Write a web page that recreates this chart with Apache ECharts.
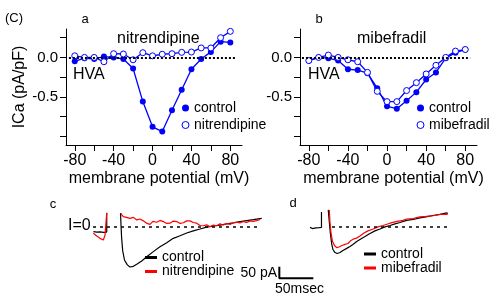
<!DOCTYPE html>
<html>
<head>
<meta charset="utf-8">
<script src="https://cdn.jsdelivr.net/npm/echarts@6/dist/echarts.min.js"></script>
<style>
  html, body { margin: 0; padding: 0; background: #fff; }
  #chart { width: 500px; height: 308px; }
</style>
</head>
<body>
<div id="chart"></div>
<script>
// I-V curves (pA/pF) at each test potential (mV)
const voltages = [-80, -70, -60, -50, -40, -30, -20, -10, 0, 10, 20, 30, 40, 50, 60, 70, 80]
const aControl = [-0.05, -0.01, -0.02, 0.01, 0, -0.02, -0.14, -0.56, -0.88, -0.94, -0.67, -0.41, -0.15, -0.02, 0.07, 0.2, 0.19]
const aNitrendipine = [0.02, 0, 0, -0.055, 0.047, 0.043, -0.03, 0.06, 0.02, 0.04, 0.047, 0.064, 0.068, 0.12, 0.12, 0.25, 0.33]
const bControl = [-0.04, 0, -0.01, -0.04, -0.15, -0.16, -0.2, -0.39, -0.62, -0.65, -0.55, -0.44, -0.28, -0.19, -0.01, 0.06, 0.1]
const bMibefradil = [-0.04, 0, 0.03, 0, -0.03, -0.055, -0.19, -0.43, -0.56, -0.56, -0.42, -0.32, -0.21, -0.1, 0, 0.08, 0.1]
const yTicks = [-1, -0.75, -0.5, -0.25, 0, 0.25]
const yTickLabels = [-0.5, 0]
const xTicks = [-80, -60, -40, -20, 0, 20, 40, 60, 80]
const xTickLabels = [-80, -40, 0, 40, 80]

// current traces: [time ms, current pA]
const cControlPre = [[5, -22], [10, -24], [15, -23], [20, -25], [24.6, -24], [24.6, 58]]
const cNitrendipinePre = [[4.9, -29], [7.5, -35], [9.9, -41], [12.2, -33], [14.7, -51], [17.2, -44], [19.6, -58], [22.1, -37], [24.6, -44], [24.6, 59]]
const cControl = [[44.9, 58], [45.6, 6], [46.5, -49], [48.1, -105], [50.7, -144], [54.9, -165], [58.8, -174], [63.7, -171], [68.7, -162], [76, -148],
  [83.4, -130], [93.1, -108], [102.9, -87], [112.8, -70], [122.5, -51], [132.4, -40], [142.2, -28], [151.9, -19], [161.8, -11], [171.6, -3],
  [181.3, 2], [191.2, 6], [201, 11], [210.7, 15], [220.6, 21], [230.4, 25], [240.1, 29], [252.5, 35]]
const cNitrendipine = [[45.1, 56], [49, 42], [53.7, 39], [58.8, 35], [64, 39], [68.7, 28], [73.5, 32], [78.4, 24], [83.8, 13], [88.2, 9],
  [92.6, 22], [98.1, 18], [102.9, 26], [107.8, 21], [112.8, 13], [117.6, 14], [122.5, 23], [127.5, 21], [132.4, 13], [137.2, 16],
  [142.2, 24], [147.1, 24], [151.9, 17], [156.9, 14], [161.8, 4], [166.6, 3], [171.6, 7], [176.5, -1], [181.3, 6], [186.3, 3],
  [191.2, 11], [196, 6], [201, 13], [205.9, 9], [210.7, 16], [215.7, 18], [220.6, 15], [225.4, 21], [230.4, 17], [235.3, 24],
  [240.1, 22], [245.1, 25], [250, 30]]
const dControlPre = [[29.4, -4], [33, -9], [38.2, -6], [43, -5], [46.3, -4], [46.3, 62]]
const dControl = [[56.3, 71], [57.8, 19], [59.3, -28], [61.3, -75], [63.2, -99], [66.2, -112], [69.6, -116], [73.5, -112], [77.9, -103], [83.4, -94],
  [88.2, -86], [92.6, -77], [98.1, -65], [102.9, -56], [110.3, -43], [117.6, -30], [125, -19], [132.4, -11], [139.7, -2], [147.1, 4],
  [154.4, 11], [161.8, 17], [171.6, 26], [180.9, 30], [191.2, 37], [200, 41], [210.3, 47], [220.6, 52], [230.4, 58], [232.4, 56]]
const dMibefradil = [[57.8, 71], [58.8, 19], [60.3, -28], [62.5, -64], [65.4, -82], [68.7, -91], [72.1, -88], [76.5, -82], [80.9, -77], [85.3, -73],
  [89.7, -60], [94.1, -53], [98.5, -49], [102.9, -41], [108.8, -28], [114.7, -19], [122.5, -11], [129.4, -2], [136.8, 4], [147.1, 14],
  [157.4, 22], [166.2, 26], [171.6, 32], [180.9, 34], [191.2, 41], [200, 43], [210.3, 46], [220.6, 52], [230.4, 52], [232.4, 55]]
const scaleBarMs = 50
const scaleBarPA = 50
const scaleBarOrigin = [278.4, -172.5]

const BLUE = '#0000ff'
const FONT = 'Liberation Sans, Arial, sans-serif'

const zip = (xs, ys) => xs.map((x, i) => [x, ys[i]])

const ivXAxis = (gridIndex) => ({
  type: 'value', gridIndex, min: -89, max: 92,
  name: 'membrane potential (mV)', nameLocation: 'middle', nameGap: 26,
  nameTextStyle: { fontSize: 16, color: '#000', fontFamily: FONT, padding: [0, 0, 0, 10] },
  axisLine: { show: true, onZero: false, lineStyle: { color: '#000', width: 1 } },
  axisTick: { show: true, length: 6, customValues: xTicks, lineStyle: { color: '#000' } },
  axisLabel: { customValues: xTickLabels, margin: 8, fontSize: 16, color: '#000', fontFamily: FONT },
  splitLine: { show: false }
})

const ivYAxis = (gridIndex, withName) => ({
  type: 'value', gridIndex, min: -1.11, max: 0.36,
  name: withName ? 'ICa (pA/pF)' : '', nameLocation: 'middle', nameGap: 38,
  nameTextStyle: { fontSize: 16, color: '#000', fontFamily: FONT },
  axisLine: { show: true, onZero: false, lineStyle: { color: '#000', width: 1 } },
  axisTick: { show: true, length: 6, customValues: yTicks, lineStyle: { color: '#000' } },
  axisLabel: { customValues: yTickLabels, margin: 8, fontSize: 15, color: '#000', fontFamily: FONT,
    formatter: v => v.toFixed(1) },
  splitLine: { show: false }
})

const hiddenAxis = (gridIndex, min, max) => ({ type: 'value', gridIndex, min, max, show: false })

const zeroLine = (from, to, dash, width) => ({
  silent: true, symbol: 'none', label: { show: false },
  lineStyle: { color: '#000', type: dash, width },
  data: [[{ coord: from }, { coord: to }]]
})

const filledSeries = (name, idx, data) => ({
  name, type: 'line', xAxisIndex: idx, yAxisIndex: idx, data,
  symbol: 'circle', symbolSize: 6, color: BLUE,
  lineStyle: { color: BLUE, width: 1.3 }, itemStyle: { color: BLUE }
})
const openSeries = (name, idx, data) => ({
  name, type: 'line', xAxisIndex: idx, yAxisIndex: idx, data,
  symbol: 'circle', symbolSize: 6, color: BLUE,
  lineStyle: { color: BLUE, width: 1.3 }, itemStyle: { color: '#fff', borderColor: BLUE, borderWidth: 1 }
})
const traceSeries = (name, idx, data, color) => ({
  name, type: 'line', xAxisIndex: idx, yAxisIndex: idx, data,
  symbol: 'none', color, lineStyle: { color, width: 1.2 }
})

const ivLegend = (left, names) => ({
  orient: 'vertical', left, top: 101, padding: 0, itemGap: 3,
  itemWidth: 7, itemHeight: 7, itemTextGap: 5,
  textStyle: { fontSize: 14, color: '#000', fontFamily: FONT, lineHeight: 14 },
  formatter: n => n.slice(2),
  data: [
    { name: names[0], icon: 'circle', itemStyle: { color: BLUE, borderWidth: 0 } },
    { name: names[1], icon: 'circle', itemStyle: { color: '#fff', borderColor: BLUE, borderWidth: 1 } }
  ]
})
const traceLegend = (left, top, gap, names) => ({
  orient: 'vertical', left, top, padding: 0, itemGap: 0,
  itemWidth: 12, itemHeight: 3, itemTextGap: 4,
  textStyle: { fontSize: 14, color: '#000', fontFamily: FONT, lineHeight: gap },
  formatter: n => n.slice(2),
  data: [{ name: names[0], icon: 'rect' }, { name: names[1], icon: 'rect' }]
})

const txt = (text, x, y, size, align) => ({
  type: 'text', x, y,
  style: { text, fontSize: size, fontFamily: FONT, fill: '#000', align: align || 'left', verticalAlign: 'middle' }
})

const scaleBar = [
  [scaleBarOrigin[0], scaleBarOrigin[1]],
  [scaleBarOrigin[0], scaleBarOrigin[1] - scaleBarPA],
  [scaleBarOrigin[0] + scaleBarMs, scaleBarOrigin[1] - scaleBarPA]
]

const chart = echarts.init(document.getElementById('chart'))

const option = {
  animation: false,
  backgroundColor: '#fff',
  grid: [
    { left: 66, top: 29, width: 176, height: 116 },
    { left: 300, top: 29, width: 177, height: 116 },
    { left: 90, top: 198.5, width: 230, height: 86.2 },
    { left: 290, top: 198.5, width: 175, height: 86.2 }
  ],
  xAxis: [ivXAxis(0), ivXAxis(1), hiddenAxis(2, 0, 338.2), hiddenAxis(3, 0, 257.4)],
  yAxis: [ivYAxis(0, true), ivYAxis(1, false), hiddenAxis(2, -250, 120), hiddenAxis(3, -250, 120)],
  legend: [
    ivLegend(181.5, ['a-control', 'a-nitrendipine']),
    ivLegend(416.5, ['b-control', 'b-mibefradil']),
    traceLegend(145, 250.5, 13, ['c-control', 'c-nitrendipine']),
    traceLegend(364, 247, 12.5, ['d-control', 'd-mibefradil'])
  ],
  graphic: [
    txt('(C)', 5, 18, 13),
    txt('a', 85, 19, 13, 'center'),
    txt('b', 319, 19, 13, 'center'),
    txt('nitrendipine', 117, 39, 16),
    txt('mibefradil', 357, 39, 16),
    txt('HVA', 73, 75, 16),
    txt('HVA', 308, 75, 16),
    txt('c', 53, 204, 13, 'center'),
    txt('d', 293, 203, 13, 'center'),
    txt('I=0', 68, 226, 16),
    txt('50 pA', 277, 273, 14, 'right'),
    txt('50msec', 275, 289, 14)
  ],
  series: [
    Object.assign(filledSeries('a-control', 0, zip(voltages, aControl)),
      { markLine: zeroLine([-86, 0], [86, 0], [2, 2], 2) }),
    openSeries('a-nitrendipine', 0, zip(voltages, aNitrendipine)),
    Object.assign(filledSeries('b-control', 1, zip(voltages, bControl)),
      { markLine: zeroLine([-87, 0], [85, 0], [2, 2], 2) }),
    openSeries('b-mibefradil', 1, zip(voltages, bMibefradil)),

    Object.assign(traceSeries('c-control', 2, cControl, '#000'),
      { markLine: zeroLine([4.4, 0], [247, 0], [3, 4], 1.5) }),
    traceSeries('c-control', 2, cControlPre, '#000'),
    traceSeries('c-nitrendipine', 2, cNitrendipine, '#ff0000'),
    traceSeries('c-nitrendipine', 2, cNitrendipinePre, '#ff0000'),
    { name: 'scale', type: 'line', xAxisIndex: 2, yAxisIndex: 2, data: scaleBar,
      symbol: 'none', lineStyle: { color: '#000', width: 2 } },

    Object.assign(traceSeries('d-control', 3, dControl, '#000'),
      { markLine: zeroLine([61.8, 0], [230.9, 0], [3, 4], 1.5) }),
    traceSeries('d-control', 3, dControlPre, '#000'),
    traceSeries('d-mibefradil', 3, dMibefradil, '#ff0000')
  ]
}

chart.setOption(option)
</script>
</body>
</html>
